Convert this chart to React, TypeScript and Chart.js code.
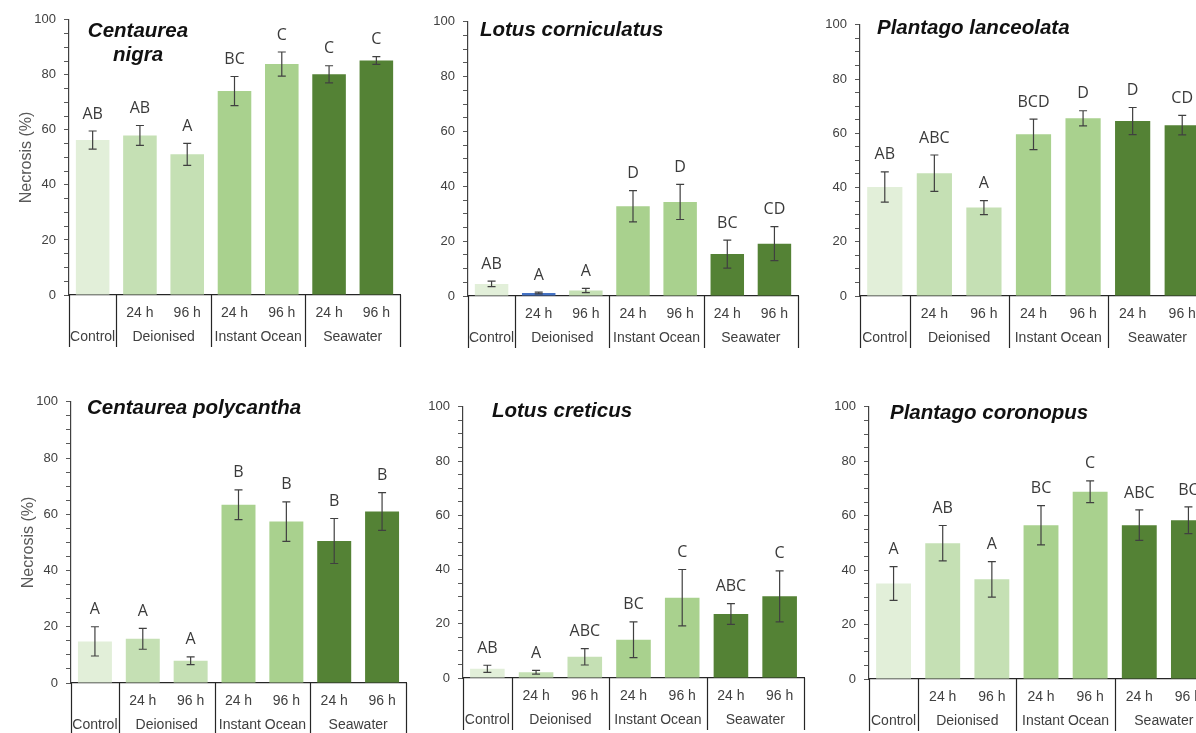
import React, { useEffect, useRef } from "react";
import { Chart, registerables } from "chart.js";

Chart.register(...registerables);

// ---------- shared axis text ----------
const categories = [
  "Control",
  "Deionised 24 h",
  "Deionised 96 h",
  "Instant Ocean 24 h",
  "Instant Ocean 96 h",
  "Seawater 24 h",
  "Seawater 96 h",
];
const subLabels = ["", "24 h", "96 h", "24 h", "96 h", "24 h", "96 h"];
const groupLabels = ["Control", "Deionised", "Instant Ocean", "Seawater"];
const groupSpans = [
  [0, 0],
  [1, 2],
  [3, 4],
  [5, 6],
];
const yTickLabels = [0, 20, 40, 60, 80, 100];
const yAxisTitle = "Necrosis (%)";

// ---------- data ----------
const centaureaNigraMeans = [56.3, 58.0, 51.1, 74.1, 83.9, 80.2, 85.2];
const centaureaNigraErrors = [3.3, 3.6, 4.0, 5.3, 4.4, 3.1, 1.4];
const centaureaNigraLetters = ["AB", "AB", "A", "BC", "C", "C", "C"];

const lotusCorniculatusMeans = [4.4, 1.1, 2.0, 32.7, 34.3, 15.3, 19.1];
const lotusCorniculatusErrors = [1.0, 0.3, 0.8, 5.7, 6.4, 5.1, 6.2];
const lotusCorniculatusLetters = ["AB", "A", "A", "D", "D", "BC", "CD"];

const plantagoLanceolataMeans = [40.2, 45.3, 32.6, 59.6, 65.5, 64.5, 63.0];
const plantagoLanceolataErrors = [5.6, 6.7, 2.6, 5.6, 2.8, 5.0, 3.6];
const plantagoLanceolataLetters = ["AB", "ABC", "A", "BCD", "D", "D", "CD"];

const centaureaPolycanthaMeans = [14.8, 15.7, 7.9, 63.4, 57.4, 50.5, 61.0];
const centaureaPolycanthaErrors = [5.2, 3.7, 1.4, 5.3, 7.0, 8.0, 6.7];
const centaureaPolycanthaLetters = ["A", "A", "A", "B", "B", "B", "B"];

const lotusCreticusMeans = [3.4, 2.1, 7.8, 14.1, 29.6, 23.6, 30.1];
const lotusCreticusErrors = [1.3, 0.7, 3.0, 6.6, 10.4, 3.8, 9.4];
const lotusCreticusLetters = ["AB", "A", "ABC", "BC", "C", "ABC", "C"];

const plantagoCoronopusMeans = [35.1, 49.9, 36.6, 56.5, 68.8, 56.5, 58.3];
const plantagoCoronopusErrors = [6.2, 6.5, 6.5, 7.2, 4.0, 5.6, 4.9];
const plantagoCoronopusLetters = ["A", "AB", "A", "BC", "C", "ABC", "BC"];

// ---------- styles ----------
const C_CONTROL = "#e2efd9";
const C_DEION = "#c5e0b4";
const C_IO = "#a9d18e";
const C_SEA = "#548235";
const baseColors = [C_CONTROL, C_DEION, C_DEION, C_IO, C_IO, C_SEA, C_SEA];
const lotusCornColors = [C_CONTROL, "#4472c4", C_DEION, C_IO, C_IO, C_SEA, C_SEA];

const Y_AXIS_W = 62;
const PAD_TOP = 12;
const PAD_RIGHT = 8;
const X_AXIS_H = 58;
const PAD_BOTTOM = 2;

type PanelCfg = {
  key: string;
  title: string[];
  titleAlign: "center" | "left";
  titleDx: number;
  titleDy: number;
  means: number[];
  errors: number[];
  letters: string[];
  colors: string[];
  yTitle: boolean;
  left: number;
  right: number;
  top: number;
  bottom: number;
};

const panels: PanelCfg[] = [
  {
    key: "cn",
    title: ["Centaurea", "nigra"],
    titleAlign: "center",
    titleDx: 69,
    titleDy: 12,
    means: centaureaNigraMeans,
    errors: centaureaNigraErrors,
    letters: centaureaNigraLetters,
    colors: baseColors,
    yTitle: true,
    left: 69,
    right: 400,
    top: 16,
    bottom: 295,
  },
  {
    key: "lco",
    title: ["Lotus corniculatus"],
    titleAlign: "left",
    titleDx: 12,
    titleDy: 9,
    means: lotusCorniculatusMeans,
    errors: lotusCorniculatusErrors,
    letters: lotusCorniculatusLetters,
    colors: lotusCornColors,
    yTitle: false,
    left: 468,
    right: 798,
    top: 18,
    bottom: 296,
  },
  {
    key: "pl",
    title: ["Plantago lanceolata"],
    titleAlign: "left",
    titleDx: 17,
    titleDy: 4,
    means: plantagoLanceolataMeans,
    errors: plantagoLanceolataErrors,
    letters: plantagoLanceolataLetters,
    colors: baseColors,
    yTitle: false,
    left: 860,
    right: 1207,
    top: 21,
    bottom: 296,
  },
  {
    key: "cp",
    title: ["Centaurea polycantha"],
    titleAlign: "left",
    titleDx: 16,
    titleDy: 7,
    means: centaureaPolycanthaMeans,
    errors: centaureaPolycanthaErrors,
    letters: centaureaPolycanthaLetters,
    colors: baseColors,
    yTitle: true,
    left: 71,
    right: 406,
    top: 398,
    bottom: 683,
  },
  {
    key: "lcr",
    title: ["Lotus creticus"],
    titleAlign: "left",
    titleDx: 29,
    titleDy: 5,
    means: lotusCreticusMeans,
    errors: lotusCreticusErrors,
    letters: lotusCreticusLetters,
    colors: baseColors,
    yTitle: false,
    left: 463,
    right: 804,
    top: 403,
    bottom: 678,
  },
  {
    key: "pc",
    title: ["Plantago coronopus"],
    titleAlign: "left",
    titleDx: 21,
    titleDy: 7,
    means: plantagoCoronopusMeans,
    errors: plantagoCoronopusErrors,
    letters: plantagoCoronopusLetters,
    colors: baseColors,
    yTitle: false,
    left: 869,
    right: 1213,
    top: 403,
    bottom: 679,
  },
];

function makeDecorPlugin(p: PanelCfg) {
  return {
    id: "decor_" + p.key,
    afterDatasetsDraw(chart: any) {
      const ctx = chart.ctx as CanvasRenderingContext2D;
      const xs = chart.scales.x;
      const ys = chart.scales.y;
      const area = chart.chartArea;
      const meta = chart.getDatasetMeta(0);
      ctx.save();

      // error bars + letters
      p.means.forEach((m, i) => {
        const bx = meta.data[i].x;
        const yt = ys.getPixelForValue(m + p.errors[i]);
        const yb = ys.getPixelForValue(Math.max(0, m - p.errors[i]));
        ctx.strokeStyle = "#404040";
        ctx.lineWidth = 1.2;
        ctx.beginPath();
        ctx.moveTo(bx, yt);
        ctx.lineTo(bx, yb);
        ctx.moveTo(bx - 4, yt);
        ctx.lineTo(bx + 4, yt);
        ctx.moveTo(bx - 4, yb);
        ctx.lineTo(bx + 4, yb);
        ctx.stroke();

        ctx.fillStyle = "#3a3a3a";
        ctx.font = "16px 'Open Sans'";
        ctx.textAlign = "center";
        ctx.textBaseline = "middle";
        ctx.fillText(p.letters[i], bx, yt - 17);
      });

      // two-level category axis
      const base = area.bottom;
      ctx.fillStyle = "#404040";
      ctx.font = "14px 'Liberation Sans'";
      ctx.textAlign = "center";
      ctx.textBaseline = "middle";
      subLabels.forEach((s, i) => {
        if (s) ctx.fillText(s, xs.getPixelForValue(i), base + 18);
      });
      groupSpans.forEach(([a, b], g) => {
        const cx = (xs.getPixelForValue(a) + xs.getPixelForValue(b)) / 2;
        ctx.fillText(groupLabels[g], cx, base + 42);
      });
      const bounds = [
        xs.left,
        ...groupSpans
          .slice(0, -1)
          .map(([, b]) => (xs.getPixelForValue(b) + xs.getPixelForValue(b + 1)) / 2),
        xs.right,
      ];
      ctx.strokeStyle = "#262626";
      ctx.lineWidth = 1.2;
      bounds.forEach((bx) => {
        const px = Math.round(bx) + 0.5;
        ctx.beginPath();
        ctx.moveTo(px, base);
        ctx.lineTo(px, base + 52);
        ctx.stroke();
      });

      // panel title
      ctx.fillStyle = "#111111";
      ctx.font = "italic bold 20.5px 'Liberation Sans'";
      ctx.textBaseline = "middle";
      ctx.textAlign = p.titleAlign;
      p.title.forEach((line, k) => {
        ctx.fillText(line, area.left + p.titleDx, area.top + p.titleDy + k * 24);
      });

      ctx.restore();
    },
  };
}

function Panel({ p }: { p: PanelCfg }) {
  const ref = useRef<HTMLCanvasElement | null>(null);
  const w = p.right - p.left + Y_AXIS_W + PAD_RIGHT;
  const h = p.bottom - p.top + PAD_TOP + X_AXIS_H + PAD_BOTTOM;
  const cl = p.left - Y_AXIS_W;
  const ct = p.top - PAD_TOP;

  useEffect(() => {
    if (!ref.current) return;
    const chart = new Chart(ref.current, {
      type: "bar",
      data: {
        labels: categories,
        datasets: [
          {
            data: p.means,
            backgroundColor: p.colors,
            borderWidth: 0,
            barPercentage: 0.71,
            categoryPercentage: 1.0,
          },
        ],
      },
      options: {
        responsive: false,
        maintainAspectRatio: false,
        animation: false,
        devicePixelRatio: 1,
        layout: {
          padding: { top: PAD_TOP, left: 0, right: PAD_RIGHT, bottom: PAD_BOTTOM },
        },
        plugins: {
          legend: { display: false },
          tooltip: { enabled: false },
        },
        scales: {
          x: {
            type: "category",
            ticks: { display: false },
            grid: { display: false },
            border: { display: true, color: "#262626", width: 1.2 },
            afterFit: (s: any) => {
              s.height = X_AXIS_H;
            },
          },
          y: {
            min: 0,
            max: 100,
            ticks: {
              stepSize: 5,
              autoSkip: false,
              padding: 8,
              color: "#404040",
              font: { family: "'Liberation Sans'", size: 13 },
              callback: (v: any) => (yTickLabels.includes(Number(v)) ? String(v) : ""),
            },
            grid: {
              display: true,
              drawOnChartArea: false,
              drawTicks: true,
              tickLength: 5,
              color: "#595959",
            },
            border: { display: true, color: "#404040", width: 1.2 },
            title: {
              display: p.yTitle,
              text: yAxisTitle,
              color: "#595959",
              font: { family: "'Liberation Sans'", size: 16 },
              padding: { top: 10, bottom: 0 },
            },
            afterFit: (s: any) => {
              s.width = Y_AXIS_W;
            },
          },
        },
      },
      plugins: [makeDecorPlugin(p)],
    } as any);
    return () => chart.destroy();
  }, [p]);

  return (
    <canvas
      ref={ref}
      width={w}
      height={h}
      style={{ position: "absolute", left: cl, top: ct, width: w, height: h }}
    />
  );
}

export default function App() {
  return (
    <div
      style={{
        position: "fixed",
        left: 0,
        top: 0,
        width: 1196,
        height: 733,
        overflow: "hidden",
        background: "#ffffff",
      }}
    >
      {panels.map((p) => (
        <Panel key={p.key} p={p} />
      ))}
    </div>
  );
}
